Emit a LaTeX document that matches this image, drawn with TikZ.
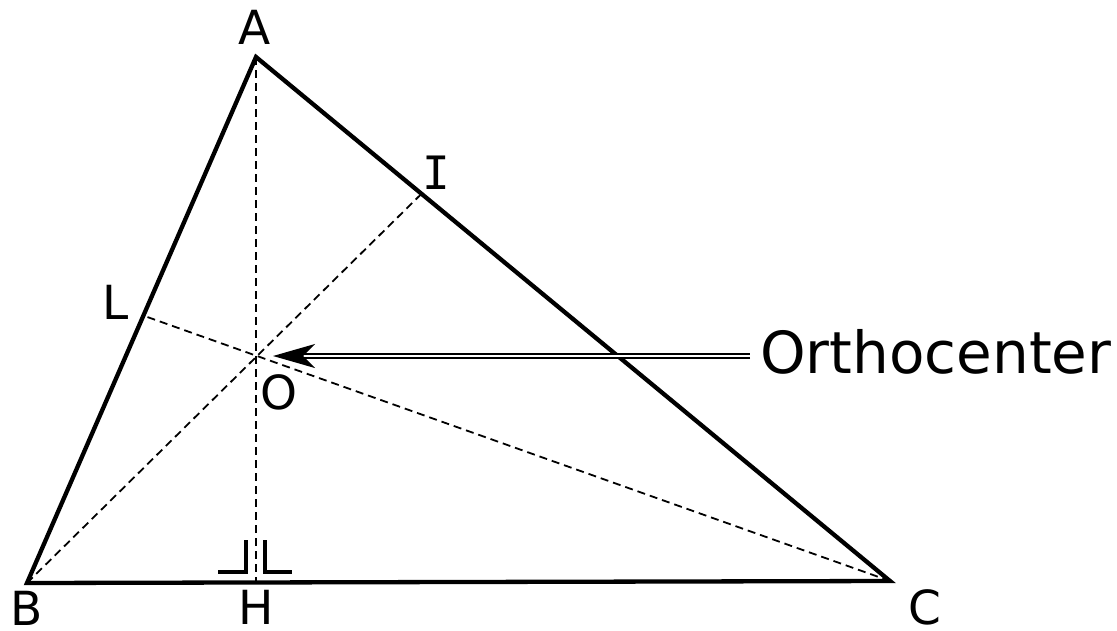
\documentclass[tikz,border=0pt]{standalone}
\usepackage{fontspec}
\setmainfont{DejaVu Sans}
\newfontfamily\monoI{DejaVu Sans Mono}
\usetikzlibrary{arrows.meta}
\begin{document}
\begin{tikzpicture}[x=1pt,y=-1pt,
  side/.style={line width=4.3pt,line join=miter},
  alt/.style={line width=1.8pt,dash pattern=on 8pt off 5pt},
  rmark/.style={line width=4.3pt},
  vlabel/.style={font=\fontsize{47}{52}\selectfont,inner sep=0pt},
  pointer/.style={double,line width=2.2pt,double distance=2.2pt,
     -{Stealth[length=42pt,width=24pt,inset=12pt]},shorten >=16pt}]
\useasboundingbox (0,0) rectangle (1117,630);
% vertices and points
\coordinate (A) at (256,57);
\coordinate (B) at (27,583);
\coordinate (C) at (890,581);
\coordinate (H) at (256,583);
\coordinate (O) at (257,356);
\coordinate (I) at (421.5,193.8);
\coordinate (L) at (143.4,315.6);
% altitudes
\draw[alt] (A) -- (H);
\draw[alt] (B) -- (I);
\draw[alt] (C) -- (L);
% triangle
\draw[side] (A) -- (B) -- (C) -- cycle;
% right-angle marks
\draw[rmark] (246,540) -- (246,572) -- (218,572);
\draw[rmark] (265,540) -- (265,572) -- (292,572);
% labels
\node[vlabel] (lA) at (255,27) {A};
\node[vlabel] (lB) at (27,608) {B};
\node[vlabel] (lH) at (256,607) {H};
\node[vlabel] (lC) at (925,607) {C};
\node[vlabel,font=\monoI\fontsize{46}{50}\selectfont] (lI) at (436,173) {I};
\node[vlabel] (lL) at (116,302) {L};
\node[vlabel] (lO) at (279,392) {O};
\node[font=\fontsize{58}{62}\selectfont,inner sep=0pt,anchor=base west] (orth) at (760,373) {Orthocenter};
\coordinate (tail) at (750,356);
\draw[pointer] (tail) -- (O);
\end{tikzpicture}
\end{document}
